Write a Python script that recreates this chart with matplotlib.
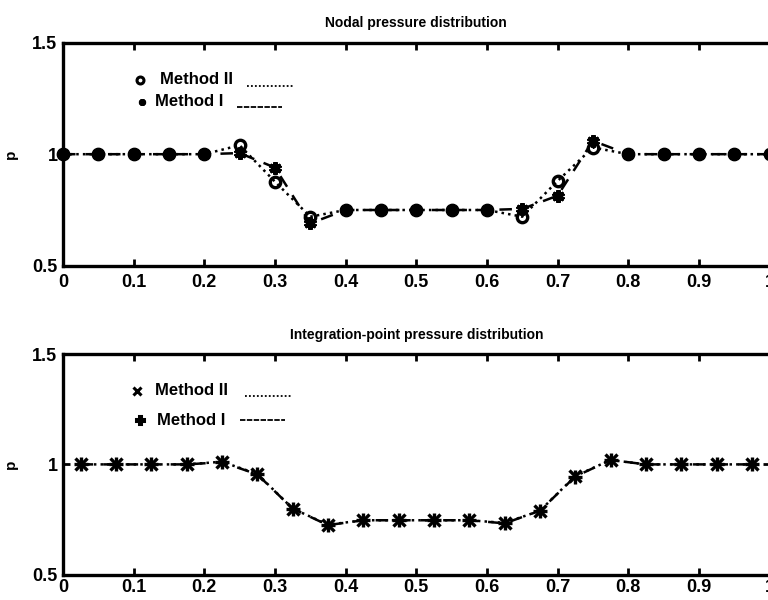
import matplotlib
matplotlib.use("Agg")
import matplotlib.pyplot as plt
import numpy as np

plt.rcParams['font.family'] = ['Liberation Sans', 'DejaVu Sans']
plt.rcParams['font.weight'] = 'bold'

# Nodal pressure (element nodes)
x_nodes = [0.00, 0.05, 0.10, 0.15, 0.20, 0.25, 0.30, 0.35, 0.40, 0.45, 0.50,
           0.55, 0.60, 0.65, 0.70, 0.75, 0.80, 0.85, 0.90, 0.95, 1.00]
p_nodes_m1 = [1.00, 1.00, 1.00, 1.00, 1.00, 1.005, 0.94, 0.69, 0.75, 0.75, 0.75,
              0.75, 0.75, 0.755, 0.814, 1.06, 1.00, 1.00, 1.00, 1.00, 1.00]
p_nodes_m2 = [1.00, 1.00, 1.00, 1.00, 1.00, 1.04, 0.877, 0.72, 0.75, 0.75, 0.75,
              0.75, 0.75, 0.72, 0.88, 1.03, 1.00, 1.00, 1.00, 1.00, 1.00]

# Integration-point pressure
x_ip = [0.025, 0.075, 0.125, 0.175, 0.225, 0.275, 0.325, 0.375, 0.425, 0.475,
        0.525, 0.575, 0.625, 0.675, 0.725, 0.775, 0.825, 0.875, 0.925, 0.975]
p_ip_m1 = [1.00, 1.00, 1.00, 1.00, 1.01, 0.955, 0.80, 0.725, 0.747, 0.747,
           0.747, 0.747, 0.733, 0.79, 0.945, 1.02, 1.00, 1.00, 1.00, 1.00]
p_ip_m2 = [1.00, 1.00, 1.00, 1.00, 1.012, 0.957, 0.80, 0.727, 0.747, 0.747,
           0.747, 0.747, 0.735, 0.79, 0.947, 1.02, 1.00, 1.00, 1.00, 1.00]

x_ticks = [0, 0.1, 0.2, 0.3, 0.4, 0.5, 0.6, 0.7, 0.8, 0.9, 1.0]
x_tick_labels = ['0', '0.1', '0.2', '0.3', '0.4', '0.5', '0.6', '0.7', '0.8', '0.9', '1']
y_ticks = [0.5, 1.0, 1.5]
y_tick_labels = ['0.5', '1', '1.5']

fig = plt.figure(figsize=(7.68, 6.0), dpi=100)
ax1 = fig.add_axes([0.082, 0.557, 0.920, 0.372])
ax2 = fig.add_axes([0.082, 0.042, 0.920, 0.368])

LW = 1.8
ASTERISK = (6, 2, 0)


def style_axes(ax, title, xpad):
    ax.set_xlim(0, 1)
    ax.set_ylim(0.5, 1.5)
    ax.set_xticks(x_ticks)
    ax.set_xticklabels(x_tick_labels, fontsize=13, fontweight='heavy')
    ax.set_yticks(y_ticks)
    ax.set_yticklabels(y_tick_labels, fontsize=13, fontweight='heavy')
    ax.tick_params(direction='in', top=True, right=True, length=5, width=2)
    ax.tick_params(axis='x', pad=xpad)
    ax.tick_params(axis='y', pad=4)
    for s in ax.spines.values():
        s.set_linewidth(2.4)
    ax.set_title(title, fontsize=10, fontweight='heavy', pad=11)
    ax.set_ylabel('p', fontsize=11, fontweight='heavy', labelpad=10)


def legend_row(ax, mx, my, marker, ms, tx, label, lx0, lx1, ly, ls):
    ax.plot([mx], [my], marker=marker, ms=ms, color='black', mew=2.2,
            mfc='none' if marker == 'o' else 'black',
            transform=ax.transAxes, clip_on=False)
    ax.text(tx, my, label, transform=ax.transAxes, fontsize=12,
            fontweight='heavy', va='center', ha='left')
    line, = ax.plot([lx0, lx1], [ly, ly], color='black', lw=1.3,
                    transform=ax.transAxes)
    if ls == ':':
        line.set_dashes((1, 1.2))
    else:
        line.set_dashes((3, 0.8))


# Nodal pressure panel
ax1.plot(x_nodes, p_nodes_m2, ls=':', color='black', lw=LW, marker='o',
         ms=7.5, mfc='none', mew=2.4, clip_on=False, zorder=3)
ax1.plot(x_nodes, p_nodes_m1, ls='--', color='black', lw=LW, marker=ASTERISK,
         ms=9, mew=3, dashes=(5, 4), clip_on=False, zorder=3)
style_axes(ax1, 'Nodal pressure distribution', 6)
legend_row(ax1, 0.109, 0.834, 'o', 5, 0.137, 'Method II', 0.261, 0.326, 0.805, ':')
legend_row(ax1, 0.112, 0.735, ASTERISK, 5, 0.130, 'Method I', 0.246, 0.310, 0.712, '-')

# Integration-point pressure panel
ax2.plot(x_ip, p_ip_m2, ls=':', color='black', lw=LW, marker='x',
         ms=9, mew=2.4, clip_on=False, zorder=3)
ax2.plot(x_ip, p_ip_m1, ls='--', color='black', lw=LW, marker='+',
         ms=10, mew=2.4, dashes=(5, 4), clip_on=False, zorder=3)
style_axes(ax2, 'Integration-point pressure distribution', 3)
legend_row(ax2, 0.105, 0.833, 'x', 6, 0.130, 'Method II', 0.258, 0.324, 0.810, ':')
legend_row(ax2, 0.109, 0.700, 'P', 6, 0.133, 'Method I', 0.251, 0.314, 0.700, '-')

fig.savefig('out.png', dpi=100)
